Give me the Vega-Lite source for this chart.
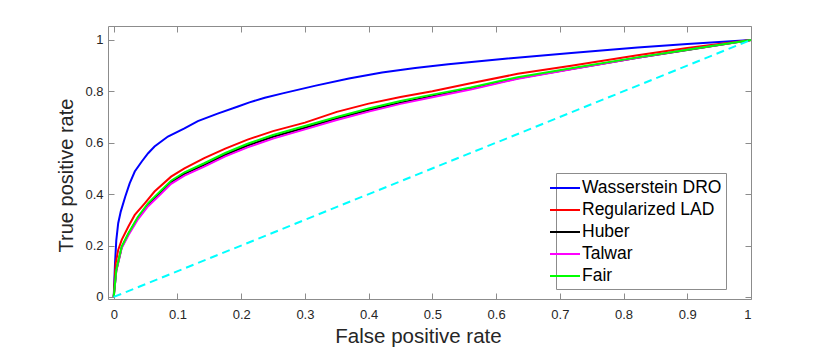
{
  "$schema": "https://vega.github.io/schema/vega-lite/v6.json",
  "width": 643,
  "height": 273,
  "autosize": {"type": "none"},
  "padding": {"left": 108, "top": 26, "right": 79, "bottom": 51},
  "background": "white",
  "config": {
    "view": {"stroke": "#8c8c8c", "strokeWidth": 1},
    "font": "Liberation Sans",
    "axis": {
      "domain": false,
      "grid": false,
      "tickColor": "#8c8c8c",
      "tickSize": -6,
      "labelColor": "#262626",
      "labelFont": "Liberation Sans",
      "labelFontSize": 13,
      "titleFont": "Liberation Sans",
      "titleFontSize": 20,
      "titleFontWeight": "normal",
      "titleColor": "#262626"
    }
  },
  "datasets": {
    "roc": [
      {"series": "Wasserstein DRO", "fpr": 0, "tpr": 0},
      {"series": "Wasserstein DRO", "fpr": 0.002, "tpr": 0.13},
      {"series": "Wasserstein DRO", "fpr": 0.004, "tpr": 0.22},
      {"series": "Wasserstein DRO", "fpr": 0.007, "tpr": 0.287},
      {"series": "Wasserstein DRO", "fpr": 0.011, "tpr": 0.332},
      {"series": "Wasserstein DRO", "fpr": 0.018, "tpr": 0.39},
      {"series": "Wasserstein DRO", "fpr": 0.025, "tpr": 0.442},
      {"series": "Wasserstein DRO", "fpr": 0.033, "tpr": 0.488},
      {"series": "Wasserstein DRO", "fpr": 0.044, "tpr": 0.527},
      {"series": "Wasserstein DRO", "fpr": 0.054, "tpr": 0.559},
      {"series": "Wasserstein DRO", "fpr": 0.064, "tpr": 0.585},
      {"series": "Wasserstein DRO", "fpr": 0.085, "tpr": 0.624},
      {"series": "Wasserstein DRO", "fpr": 0.111, "tpr": 0.656},
      {"series": "Wasserstein DRO", "fpr": 0.132, "tpr": 0.684},
      {"series": "Wasserstein DRO", "fpr": 0.163, "tpr": 0.713},
      {"series": "Wasserstein DRO", "fpr": 0.195, "tpr": 0.741},
      {"series": "Wasserstein DRO", "fpr": 0.213, "tpr": 0.757},
      {"series": "Wasserstein DRO", "fpr": 0.237, "tpr": 0.775},
      {"series": "Wasserstein DRO", "fpr": 0.265, "tpr": 0.792},
      {"series": "Wasserstein DRO", "fpr": 0.317, "tpr": 0.822},
      {"series": "Wasserstein DRO", "fpr": 0.369, "tpr": 0.85},
      {"series": "Wasserstein DRO", "fpr": 0.421, "tpr": 0.873},
      {"series": "Wasserstein DRO", "fpr": 0.473, "tpr": 0.891},
      {"series": "Wasserstein DRO", "fpr": 0.525, "tpr": 0.905},
      {"series": "Wasserstein DRO", "fpr": 0.614, "tpr": 0.927},
      {"series": "Wasserstein DRO", "fpr": 0.718, "tpr": 0.949},
      {"series": "Wasserstein DRO", "fpr": 0.822, "tpr": 0.97},
      {"series": "Wasserstein DRO", "fpr": 0.9, "tpr": 0.984},
      {"series": "Wasserstein DRO", "fpr": 1, "tpr": 1},

      {"series": "Regularized LAD", "fpr": 0, "tpr": 0},
      {"series": "Regularized LAD", "fpr": 0.003, "tpr": 0.13},
      {"series": "Regularized LAD", "fpr": 0.007, "tpr": 0.183},
      {"series": "Regularized LAD", "fpr": 0.0125, "tpr": 0.222},
      {"series": "Regularized LAD", "fpr": 0.023, "tpr": 0.274},
      {"series": "Regularized LAD", "fpr": 0.033, "tpr": 0.319},
      {"series": "Regularized LAD", "fpr": 0.049, "tpr": 0.365},
      {"series": "Regularized LAD", "fpr": 0.064, "tpr": 0.41},
      {"series": "Regularized LAD", "fpr": 0.09, "tpr": 0.468},
      {"series": "Regularized LAD", "fpr": 0.111, "tpr": 0.5},
      {"series": "Regularized LAD", "fpr": 0.142, "tpr": 0.54},
      {"series": "Regularized LAD", "fpr": 0.175, "tpr": 0.577},
      {"series": "Regularized LAD", "fpr": 0.21, "tpr": 0.612},
      {"series": "Regularized LAD", "fpr": 0.25, "tpr": 0.645},
      {"series": "Regularized LAD", "fpr": 0.3, "tpr": 0.678},
      {"series": "Regularized LAD", "fpr": 0.35, "tpr": 0.72},
      {"series": "Regularized LAD", "fpr": 0.4, "tpr": 0.752},
      {"series": "Regularized LAD", "fpr": 0.45, "tpr": 0.778},
      {"series": "Regularized LAD", "fpr": 0.5, "tpr": 0.8},
      {"series": "Regularized LAD", "fpr": 0.56, "tpr": 0.831},
      {"series": "Regularized LAD", "fpr": 0.634, "tpr": 0.868},
      {"series": "Regularized LAD", "fpr": 0.718, "tpr": 0.899},
      {"series": "Regularized LAD", "fpr": 0.822, "tpr": 0.94},
      {"series": "Regularized LAD", "fpr": 0.9, "tpr": 0.968},
      {"series": "Regularized LAD", "fpr": 1, "tpr": 1},

      {"series": "Huber", "fpr": 0, "tpr": 0},
      {"series": "Huber", "fpr": 0.004, "tpr": 0.103},
      {"series": "Huber", "fpr": 0.0125, "tpr": 0.193},
      {"series": "Huber", "fpr": 0.023, "tpr": 0.245},
      {"series": "Huber", "fpr": 0.038, "tpr": 0.308},
      {"series": "Huber", "fpr": 0.054, "tpr": 0.36},
      {"series": "Huber", "fpr": 0.075, "tpr": 0.41},
      {"series": "Huber", "fpr": 0.09, "tpr": 0.446},
      {"series": "Huber", "fpr": 0.111, "tpr": 0.479},
      {"series": "Huber", "fpr": 0.142, "tpr": 0.514},
      {"series": "Huber", "fpr": 0.175, "tpr": 0.553},
      {"series": "Huber", "fpr": 0.21, "tpr": 0.589},
      {"series": "Huber", "fpr": 0.25, "tpr": 0.623},
      {"series": "Huber", "fpr": 0.3, "tpr": 0.658},
      {"series": "Huber", "fpr": 0.35, "tpr": 0.694},
      {"series": "Huber", "fpr": 0.4, "tpr": 0.727},
      {"series": "Huber", "fpr": 0.45, "tpr": 0.756},
      {"series": "Huber", "fpr": 0.5, "tpr": 0.781},
      {"series": "Huber", "fpr": 0.56, "tpr": 0.81},
      {"series": "Huber", "fpr": 0.634, "tpr": 0.851},
      {"series": "Huber", "fpr": 0.718, "tpr": 0.887},
      {"series": "Huber", "fpr": 0.822, "tpr": 0.93},
      {"series": "Huber", "fpr": 0.9, "tpr": 0.961},
      {"series": "Huber", "fpr": 1, "tpr": 1},

      {"series": "Talwar", "fpr": 0, "tpr": 0},
      {"series": "Talwar", "fpr": 0.004, "tpr": 0.1},
      {"series": "Talwar", "fpr": 0.0125, "tpr": 0.19},
      {"series": "Talwar", "fpr": 0.023, "tpr": 0.24},
      {"series": "Talwar", "fpr": 0.038, "tpr": 0.302},
      {"series": "Talwar", "fpr": 0.054, "tpr": 0.353},
      {"series": "Talwar", "fpr": 0.075, "tpr": 0.403},
      {"series": "Talwar", "fpr": 0.09, "tpr": 0.44},
      {"series": "Talwar", "fpr": 0.111, "tpr": 0.472},
      {"series": "Talwar", "fpr": 0.142, "tpr": 0.507},
      {"series": "Talwar", "fpr": 0.175, "tpr": 0.547},
      {"series": "Talwar", "fpr": 0.21, "tpr": 0.582},
      {"series": "Talwar", "fpr": 0.25, "tpr": 0.616},
      {"series": "Talwar", "fpr": 0.3, "tpr": 0.652},
      {"series": "Talwar", "fpr": 0.35, "tpr": 0.688},
      {"series": "Talwar", "fpr": 0.4, "tpr": 0.721},
      {"series": "Talwar", "fpr": 0.45, "tpr": 0.751},
      {"series": "Talwar", "fpr": 0.5, "tpr": 0.777},
      {"series": "Talwar", "fpr": 0.56, "tpr": 0.807},
      {"series": "Talwar", "fpr": 0.634, "tpr": 0.849},
      {"series": "Talwar", "fpr": 0.718, "tpr": 0.886},
      {"series": "Talwar", "fpr": 0.822, "tpr": 0.93},
      {"series": "Talwar", "fpr": 0.9, "tpr": 0.962},
      {"series": "Talwar", "fpr": 1, "tpr": 1},

      {"series": "Fair", "fpr": 0, "tpr": 0},
      {"series": "Fair", "fpr": 0.004, "tpr": 0.105},
      {"series": "Fair", "fpr": 0.0125, "tpr": 0.196},
      {"series": "Fair", "fpr": 0.023, "tpr": 0.248},
      {"series": "Fair", "fpr": 0.038, "tpr": 0.312},
      {"series": "Fair", "fpr": 0.054, "tpr": 0.365},
      {"series": "Fair", "fpr": 0.075, "tpr": 0.416},
      {"series": "Fair", "fpr": 0.09, "tpr": 0.452},
      {"series": "Fair", "fpr": 0.111, "tpr": 0.485},
      {"series": "Fair", "fpr": 0.142, "tpr": 0.52},
      {"series": "Fair", "fpr": 0.175, "tpr": 0.56},
      {"series": "Fair", "fpr": 0.21, "tpr": 0.596},
      {"series": "Fair", "fpr": 0.25, "tpr": 0.63},
      {"series": "Fair", "fpr": 0.3, "tpr": 0.665},
      {"series": "Fair", "fpr": 0.35, "tpr": 0.7},
      {"series": "Fair", "fpr": 0.4, "tpr": 0.733},
      {"series": "Fair", "fpr": 0.45, "tpr": 0.762},
      {"series": "Fair", "fpr": 0.5, "tpr": 0.787},
      {"series": "Fair", "fpr": 0.56, "tpr": 0.815},
      {"series": "Fair", "fpr": 0.634, "tpr": 0.855},
      {"series": "Fair", "fpr": 0.718, "tpr": 0.89},
      {"series": "Fair", "fpr": 0.822, "tpr": 0.932},
      {"series": "Fair", "fpr": 0.9, "tpr": 0.962},
      {"series": "Fair", "fpr": 1, "tpr": 1}
    ],
    "diag": [
      {"fpr": 0, "tpr": 0},
      {"fpr": 1, "tpr": 1}
    ]
  },
  "layer": [
    {
      "data": {"name": "roc"},
      "mark": {"type": "line", "strokeWidth": 2, "clip": true},
      "encoding": {
        "x": {
          "field": "fpr",
          "type": "quantitative",
          "scale": {"domain": [-0.009, 1], "nice": false, "zero": false},
          "axis": {
            "orient": "bottom",
            "values": [0, 0.1, 0.2, 0.3, 0.4, 0.5, 0.6, 0.7, 0.8, 0.9, 1],
            "format": ".1~f",
            "labelPadding": 15,
            "title": "False positive rate",
            "titleFontSize": 20.5,
            "titlePadding": 5,
            "titleX": 310
          }
        },
        "y": {
          "field": "tpr",
          "type": "quantitative",
          "scale": {"domain": [-0.008, 1.054], "nice": false, "zero": false},
          "axis": {
            "orient": "left",
            "values": [0, 0.2, 0.4, 0.6, 0.8, 1],
            "format": ".1~f",
            "labelPadding": 11,
            "title": "True positive rate",
            "titlePadding": 8,
            "titleY": 149
          }
        },
        "color": {
          "field": "series",
          "type": "nominal",
          "scale": {
            "domain": ["Wasserstein DRO", "Regularized LAD", "Huber", "Talwar", "Fair"],
            "range": ["#0000ff", "#ff0000", "#000000", "#ff00ff", "#00ff00"]
          },
          "legend": {
            "title": null,
            "orient": "none",
            "legendX": 448,
            "legendY": 147,
            "symbolType": "M-1.5,0H1.5",
            "symbolSize": 400,
            "symbolStrokeWidth": 2,
            "symbolOffset": -6,
            "labelFontSize": 17.5,
            "labelFont": "Liberation Sans",
            "labelColor": "#000000",
            "labelOffset": 6,
            "labelLimit": 250,
            "rowPadding": 2,
            "padding": 4,
            "strokeColor": "#8c8c8c",
            "fillColor": "#ffffff"
          }
        },
        "order": {"field": "fpr", "type": "quantitative"}
      }
    },
    {
      "data": {"name": "diag"},
      "mark": {"type": "line", "color": "#00ffff", "strokeWidth": 2, "strokeDash": [8, 5]},
      "encoding": {
        "x": {
          "field": "fpr",
          "type": "quantitative",
          "axis": {"orient": "top", "values": [0, 0.1, 0.2, 0.3, 0.4, 0.5, 0.6, 0.7, 0.8, 0.9, 1], "labels": false, "title": null}
        },
        "y": {
          "field": "tpr",
          "type": "quantitative",
          "axis": {"orient": "right", "values": [0, 0.2, 0.4, 0.6, 0.8, 1], "labels": false, "title": null}
        }
      }
    }
  ],
  "resolve": {"axis": {"x": "independent", "y": "independent"}}
}
